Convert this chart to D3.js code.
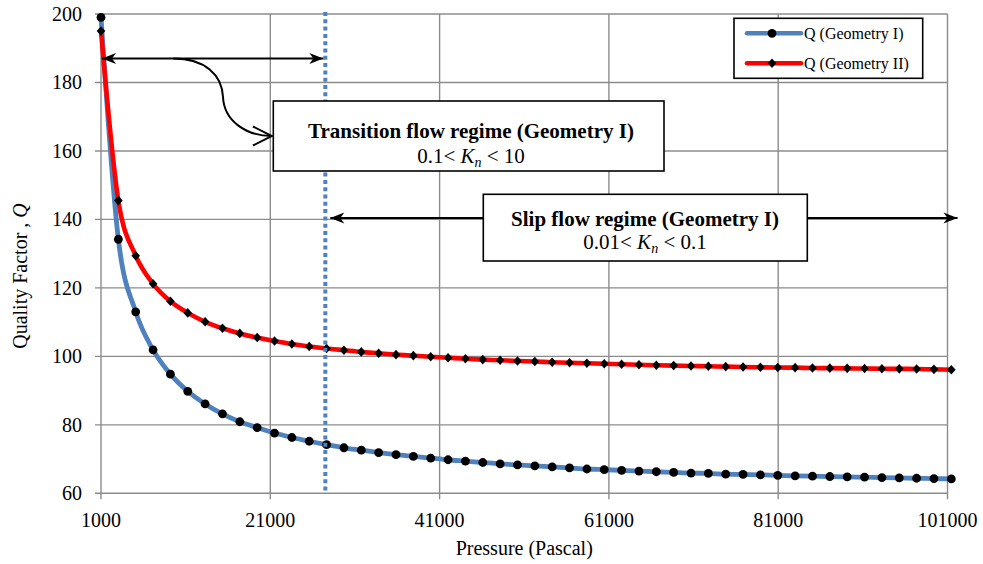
<!DOCTYPE html>
<html>
<head>
<meta charset="utf-8">
<script src="https://cdn.jsdelivr.net/npm/d3@7/dist/d3.min.js"></script>
<style>
  html, body { margin: 0; padding: 0; background: #fff; }
  svg { display: block; }
  text { font-family: "Liberation Serif", "Times New Roman", serif; fill: #000; }
</style>
</head>
<body>
<svg id="chart" width="983" height="564" font-family="'Liberation Serif', 'Times New Roman', serif"></svg>
<script>
// Pressure (Pa) at each computed point
const pressure = [1000, 3050, 5100, 7150, 9200, 11250, 13300, 15350, 17400, 19450,
  21500, 23550, 25600, 27650, 29700, 31750, 33800, 35850, 37900, 39950,
  42000, 44050, 46100, 48150, 50200, 52250, 54300, 56350, 58400, 60450,
  62500, 64550, 66600, 68650, 70700, 72750, 74800, 76850, 78900, 80950,
  83000, 85050, 87100, 89150, 91200, 93250, 95300, 97350, 99400, 101450];

// Quality factor, Geometry I
const qGeometryI = [199.0, 134.2, 113.0, 101.9, 94.8, 89.8, 86.1, 83.2, 80.9, 79.2,
  77.6, 76.3, 75.2, 74.2, 73.3, 72.6, 71.9, 71.3, 70.8, 70.3,
  69.8, 69.4, 69.0, 68.6, 68.3, 68.0, 67.7, 67.4, 67.1, 66.9,
  66.7, 66.5, 66.3, 66.1, 65.9, 65.8, 65.6, 65.5, 65.4, 65.25,
  65.1, 65.0, 64.9, 64.8, 64.7, 64.6, 64.5, 64.4, 64.3, 64.2];

// Quality factor, Geometry II
const qGeometryII = [195.0, 145.5, 129.4, 121.2, 116.1, 112.7, 110.1, 108.2, 106.7, 105.5,
  104.5, 103.6, 102.9, 102.3, 101.8, 101.3, 100.9, 100.5, 100.2, 99.9,
  99.6, 99.3, 99.05, 98.85, 98.65, 98.5, 98.3, 98.15, 98.0, 97.85,
  97.7, 97.55, 97.4, 97.3, 97.2, 97.1, 97.0, 96.9, 96.8, 96.75,
  96.7, 96.6, 96.55, 96.5, 96.45, 96.4, 96.35, 96.3, 96.2, 96.1];

const xTicks = [1000, 21000, 41000, 61000, 81000, 101000];
const yTicks = [60, 80, 100, 120, 140, 160, 180, 200];
const seriesNames = ["Q (Geometry I)", "Q (Geometry II)"];

// Regime boundary (Geometry I) and annotation levels
const transitionPressure = 27500;
const transitionArrowQ = 187;
const slipArrowQ = 140.4;

const svg = d3.select("#chart");
const margin = { left: 101, right: 35.5, top: 14, bottom: 70.7 };
const W = 983, H = 564;

const x = d3.scaleLinear().domain([1000, 101000]).range([margin.left, W - margin.right]);
const y = d3.scaleLinear().domain([60, 200]).range([H - margin.bottom, margin.top]);

const gridColor = "#8c8c8c";
const blue = "#4F81BD", red = "#FF0000";

svg.append("rect").attr("width", W).attr("height", H).attr("fill", "#fff");

// Gridlines
const grid = svg.append("g");
grid.selectAll(".gy").data(yTicks).join("line")
  .attr("x1", x(1000) - 6).attr("x2", x(101000))
  .attr("y1", d => y(d)).attr("y2", d => y(d))
  .attr("stroke", gridColor).attr("stroke-width", 1.4);
grid.selectAll(".gx").data(xTicks).join("line")
  .attr("x1", d => x(d)).attr("x2", d => x(d))
  .attr("y1", y(200)).attr("y2", y(60) + 6)
  .attr("stroke", gridColor).attr("stroke-width", 1.4);

// Axis tick labels
svg.append("g").selectAll("text").data(yTicks).join("text")
  .attr("x", 82).attr("y", d => y(d)).attr("dy", "0.35em")
  .attr("text-anchor", "end").attr("font-size", 20)
  .text(d => d);
svg.append("g").selectAll("text").data(xTicks).join("text")
  .attr("x", d => x(d)).attr("y", 527)
  .attr("text-anchor", "middle").attr("font-size", 20)
  .text(d => d);

// Axis titles
svg.append("text")
  .attr("x", x(51000)).attr("y", 555)
  .attr("text-anchor", "middle").attr("font-size", 20)
  .text("Pressure (Pascal)");
const yTitle = svg.append("text")
  .attr("transform", "translate(27,276) rotate(-90)")
  .attr("text-anchor", "middle").attr("font-size", 20);
yTitle.append("tspan").text("Quality Factor , ");
yTitle.append("tspan").attr("font-style", "italic").text("Q");

// Series lines
const line = d3.line().curve(d3.curveMonotoneX);
const ptsI = pressure.map((p, i) => [x(p), y(qGeometryI[i])]);
const ptsII = pressure.map((p, i) => [x(p), y(qGeometryII[i])]);

svg.append("path").attr("d", line(ptsI))
  .attr("fill", "none").attr("stroke", blue).attr("stroke-width", 4.8)
  .attr("stroke-linejoin", "round").attr("stroke-linecap", "round");
svg.append("path").attr("d", line(ptsII))
  .attr("fill", "none").attr("stroke", red).attr("stroke-width", 4.6)
  .attr("stroke-linejoin", "round").attr("stroke-linecap", "round");

// Markers
const diamond = (cx, cy) => `M${cx},${cy - 4.8}L${cx + 4.3},${cy}L${cx},${cy + 4.8}L${cx - 4.3},${cy}Z`;
svg.append("g").selectAll("circle").data(ptsI).join("circle")
  .attr("cx", d => d[0]).attr("cy", d => d[1]).attr("r", 4.4).attr("fill", "#000");
svg.append("g").selectAll("path").data(ptsII).join("path")
  .attr("d", d => diamond(d[0], d[1])).attr("fill", "#000");

// Regime boundary
svg.append("line")
  .attr("x1", x(transitionPressure)).attr("x2", x(transitionPressure))
  .attr("y1", y(200) - 2).attr("y2", y(60))
  .attr("stroke", blue).attr("stroke-width", 4)
  .attr("stroke-dasharray", "4,3.3");

// Arrowheads
const defs = svg.append("defs");
defs.append("marker").attr("id", "stealth")
  .attr("markerUnits", "userSpaceOnUse")
  .attr("viewBox", "-16 -7 18 14").attr("refX", 0).attr("refY", 0)
  .attr("markerWidth", 18).attr("markerHeight", 14)
  .attr("orient", "auto-start-reverse")
  .append("path").attr("d", "M0,0L-14,-5.5L-10,0L-14,5.5Z").attr("fill", "#000");
defs.append("marker").attr("id", "openhead")
  .attr("markerUnits", "userSpaceOnUse")
  .attr("viewBox", "-22 -12 24 24").attr("refX", 0).attr("refY", 0)
  .attr("markerWidth", 24).attr("markerHeight", 24)
  .attr("orient", "auto")
  .append("path").attr("d", "M-19,-9.5L0,0L-19,9.5")
  .attr("fill", "none").attr("stroke", "#000").attr("stroke-width", 2);

const ann = svg.append("g");
ann.append("line")
  .attr("x1", x(1000) + 1).attr("x2", x(transitionPressure) - 2)
  .attr("y1", y(transitionArrowQ)).attr("y2", y(transitionArrowQ))
  .attr("stroke", "#000").attr("stroke-width", 2)
  .attr("marker-start", "url(#stealth)").attr("marker-end", "url(#stealth)");

const cy0 = y(transitionArrowQ);
ann.append("path")
  .attr("d", `M173.3,${cy0} C205,${cy0} 222,75 223,97 C224,120 245,136 272,136`)
  .attr("fill", "none").attr("stroke", "#000").attr("stroke-width", 2)
  .attr("marker-end", "url(#openhead)");

ann.append("line")
  .attr("x1", x(transitionPressure) + 5).attr("x2", x(101000) + 10)
  .attr("y1", y(slipArrowQ)).attr("y2", y(slipArrowQ))
  .attr("stroke", "#000").attr("stroke-width", 2)
  .attr("marker-start", "url(#stealth)").attr("marker-end", "url(#stealth)");

// Regime boxes
function regimeBox(bx, by, bw, bh, title, lo, hi, cx, b1, b2) {
  const g = svg.append("g");
  g.append("rect").attr("x", bx).attr("y", by).attr("width", bw).attr("height", bh)
    .attr("fill", "#fff").attr("stroke", "#000").attr("stroke-width", 1.6);
  g.append("text").attr("x", cx).attr("y", b1).attr("text-anchor", "middle")
    .attr("font-size", 21).attr("font-weight", "bold").text(title);
  const t = g.append("text").attr("x", cx).attr("y", b2).attr("text-anchor", "middle")
    .attr("font-size", 21);
  t.append("tspan").text(lo + "< ");
  t.append("tspan").attr("font-style", "italic").text("K");
  t.append("tspan").attr("font-style", "italic").attr("font-size", 14).attr("dy", 4).text("n");
  t.append("tspan").attr("dy", -4).text(" < " + hi);
}
regimeBox(273.3, 101, 390.7, 70, "Transition flow regime (Geometry I)", "0.1", "10", 471, 137.7, 163.3);
regimeBox(483.3, 194.3, 324, 66.7, "Slip flow regime (Geometry I)", "0.01", "0.1", 645, 225.7, 249);

// Legend
const lg = svg.append("g");
lg.append("rect").attr("x", 734).attr("y", 18.3).attr("width", 188.7).attr("height", 60)
  .attr("fill", "#fff").attr("stroke", "#000").attr("stroke-width", 1.6);
const legendRows = [
  { name: seriesNames[0], color: blue, cy: 33.3, shape: "circle" },
  { name: seriesNames[1], color: red, cy: 63.3, shape: "diamond" }
];
legendRows.forEach(r => {
  lg.append("line").attr("x1", 747).attr("x2", 801).attr("y1", r.cy).attr("y2", r.cy)
    .attr("stroke", r.color).attr("stroke-width", 4.5).attr("stroke-linecap", "round");
  if (r.shape === "circle") {
    lg.append("circle").attr("cx", 772).attr("cy", r.cy).attr("r", 4.4).attr("fill", "#000");
  } else {
    lg.append("path").attr("d", diamond(772, r.cy)).attr("fill", "#000");
  }
  lg.append("text").attr("x", 804).attr("y", r.cy).attr("dy", "0.33em")
    .attr("font-size", 16).text(r.name);
});
</script>
</body>
</html>
